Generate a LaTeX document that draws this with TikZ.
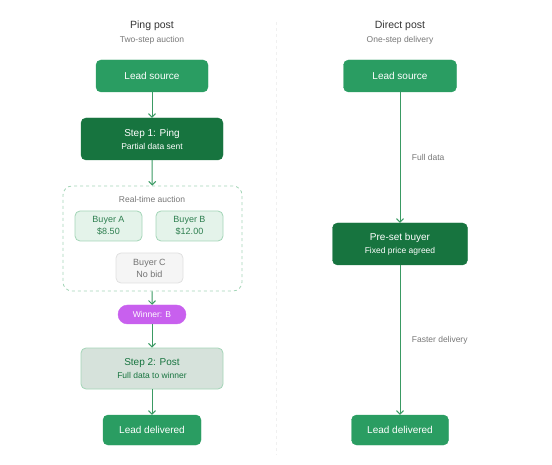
\documentclass[tikz,border=0pt]{standalone}
\usepackage{fontspec}
\setmainfont{Liberation Sans}
\usepackage{tikz}
\usetikzlibrary{positioning}
\usetikzlibrary{arrows.meta}

\definecolor{leadgreen}{HTML}{2A9D62}
\definecolor{stepgreen}{HTML}{17743F}
\definecolor{linegreen}{HTML}{3A9A63}
\definecolor{paleborder}{HTML}{A3D5B7}
\definecolor{palefill}{HTML}{E4F3EA}
\definecolor{buyertext}{HTML}{2E7F50}
\definecolor{postfill}{HTML}{D6E2DB}
\definecolor{winnerfill}{HTML}{C860EE}
\definecolor{greytext}{HTML}{777777}

\tikzset{
  title/.style={font=\fontsize{10.5}{12}\selectfont,text=black!80},
  subtitle/.style={font=\fontsize{8.5}{10}\selectfont,text=greytext},
  flowbox/.style={rectangle,rounded corners=5pt,align=center,inner sep=0pt,
    font=\fontsize{10}{12}\selectfont},
  lead/.style={flowbox,fill=leadgreen,text=white,draw=leadgreen},
  stepbox/.style={flowbox,fill=stepgreen,text=white,draw=stepgreen},
  buyer/.style={flowbox,fill=palefill,draw=paleborder,text=buyertext,line width=0.8pt,
    minimum width=67pt,minimum height=30pt,font=\fontsize{9}{11}\selectfont},
  nobid/.style={buyer,fill=black!4,draw=black!12,text=black!55},
  flow/.style={draw=linegreen,line width=1pt,->},
}

\begin{document}
\begin{tikzpicture}[>={Straight Barb[length=3.5pt,width=7pt]},x=1pt,y=-1pt,line join=bevel]
        \useasboundingbox (0,0) rectangle (552,465);
        %
        \coordinate (divtop) at (276,22);
        \coordinate (divbottom) at (276,455);
        \draw [color=black!6,dashed] (divtop) to (divbottom);
        %
        \node[title] (pingtitle) at (152,26) {Ping post};
        \node[subtitle] (pingsub) at (152,40) {Two-step auction};
        \node[title] (directtitle) at (400,26) {Direct post};
        \node[subtitle] (directsub) at (400,40) {One-step delivery};
        %
        \node[lead,minimum width=112pt,minimum height=32pt] (leadA) at (152,76) {Lead source};
        \node[stepbox,minimum width=142pt,minimum height=42pt] (ping) at (152,139) {Step 1: Ping\\[1pt]{\fontsize{8.5}{10}\selectfont Partial data sent}};
        \node[rectangle,rounded corners=9pt,draw=paleborder,line width=0.8pt,dash pattern=on 3pt off 3pt,minimum width=179pt,minimum height=105pt] (auction) at (152.5,238.5) {};
        \node[subtitle] (auctionlabel) at (152,199) {Real-time auction};
        \node[buyer] (buyerA) at (108.5,226) {Buyer A\\[1pt]\$8.50};
        \node[buyer] (buyerB) at (189.5,226) {Buyer B\\[1pt]\$12.00};
        \node[nobid] (buyerC) at (149.5,268) {Buyer C\\[1pt]No bid};
        \node[flowbox,fill=winnerfill,draw=winnerfill,text=white,rounded corners=9.5pt,minimum width=68pt,minimum height=19pt,font=\fontsize{8.5}{10}\selectfont] (winner) at (152,314.5) {Winner: B};
        \node[flowbox,fill=postfill,draw=paleborder,line width=0.8pt,text=stepgreen,minimum width=142pt,minimum height=41pt] (post) at (152,368.5) {Step 2: Post\\[1pt]{\fontsize{8.5}{10}\selectfont Full data to winner}};
        \node[lead,minimum width=98pt,minimum height=30pt] (deliveredA) at (152,430) {Lead delivered};
        %
        \node[lead,minimum width=113pt,minimum height=32pt] (leadB) at (400,76) {Lead source};
        \node[stepbox,minimum width=135pt,minimum height=42pt] (preset) at (400,244) {Pre-set buyer\\[1pt]{\fontsize{8.5}{10}\selectfont Fixed price agreed}};
        \node[lead,minimum width=97pt,minimum height=30pt] (deliveredB) at (400,430) {Lead delivered};
        %
        \draw [flow] (leadA) to (ping);
        \draw [flow] (ping) to (auction);
        \draw [flow] (auction) to (winner);
        \draw [flow] (winner) to (post);
        \draw [flow] (post) to (deliveredA);
        \draw [flow] (leadB) to node[right=8pt,subtitle] {Full data} (preset);
        \draw [flow] (preset) to node[right=8pt,subtitle] {Faster delivery} (deliveredB);
        %
    \end{tikzpicture}
\end{document}
